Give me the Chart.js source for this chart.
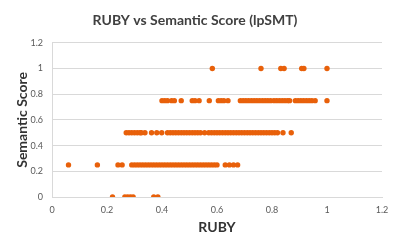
<!DOCTYPE html>
<html>
<head>
<meta charset="utf-8">
<script src="https://cdn.jsdelivr.net/npm/chart.js@4.4.0/dist/chart.umd.min.js"></script>
<style>
  body { margin: 0; background: #fff; }
</style>
</head>
<body>
<canvas id="rubyChart" width="400" height="240"></canvas>
<script>
var semanticLevels = [0, 0.25, 0.5, 0.75, 1];
var rubyAt0 = [0.22, 0.265, 0.275, 0.285, 0.295, 0.37, 0.385];
var rubyAt025 = [0.06, 0.165, 0.24, 0.255, 0.29, 0.30, 0.31, 0.32, 0.33, 0.34, 0.35, 0.36,
  0.37, 0.38, 0.39, 0.40, 0.41, 0.42, 0.43, 0.44, 0.45, 0.46, 0.47, 0.48, 0.49, 0.50,
  0.51, 0.52, 0.53, 0.54, 0.55, 0.56, 0.57, 0.58, 0.59, 0.60, 0.63, 0.645, 0.66, 0.675];
var rubyAt05 = [0.27, 0.28, 0.29, 0.30, 0.31, 0.32, 0.325, 0.338, 0.362, 0.381, 0.399,
  0.42, 0.43, 0.44, 0.45, 0.46, 0.47, 0.48, 0.49, 0.50, 0.51, 0.52, 0.53, 0.54, 0.555,
  0.57, 0.58, 0.59, 0.60, 0.61, 0.62, 0.63, 0.64, 0.65, 0.66, 0.67, 0.68, 0.69, 0.70,
  0.71, 0.72, 0.73, 0.74, 0.75, 0.76, 0.77, 0.78, 0.79, 0.80, 0.81, 0.82, 0.84, 0.87];
var rubyAt075 = [0.40, 0.41, 0.42, 0.435, 0.445, 0.47, 0.51, 0.52, 0.535, 0.572,
  0.605, 0.615, 0.625, 0.64, 0.685, 0.695, 0.705, 0.715, 0.725, 0.735, 0.745, 0.755,
  0.765, 0.775, 0.785, 0.795, 0.807, 0.817, 0.827, 0.837, 0.847, 0.857, 0.864,
  0.885, 0.895, 0.905, 0.915, 0.925, 0.935, 0.945, 0.957, 1.0];
var rubyAt1 = [0.583, 0.76, 0.832, 0.844, 0.908, 0.916, 1.0];
var xTicks = [0, 0.2, 0.4, 0.6, 0.8, 1, 1.2];

var rubyRows = [rubyAt0, rubyAt025, rubyAt05, rubyAt075, rubyAt1];
var points = [];
rubyRows.forEach(function (row, i) {
  row.forEach(function (r) { points.push({ x: r, y: semanticLevels[i] }); });
});

var orange = '#E8600A';
var lightGrey = '#D9D9D9';

// 0.2 -> "0.2", 1.0 -> "1", like the reference
function tickText(v) {
  return String(Math.round(v * 10) / 10);
}

var ctx = document.getElementById('rubyChart').getContext('2d');
var chart = new Chart(ctx, {
  type: 'scatter',
  data: {
    datasets: [{
      label: 'lpSMT',
      data: points,
      backgroundColor: orange,
      borderColor: orange,
      borderWidth: 0,
      pointRadius: 2.7,
      pointHoverRadius: 2.7
    }]
  },
  options: {
    responsive: false,
    animation: false,
    devicePixelRatio: 1,
    layout: { padding: { left: 8, right: 18, top: 0, bottom: 0 } },
    plugins: {
      legend: { display: false },
      tooltip: { enabled: false },
      title: {
        display: true,
        text: 'RUBY vs Semantic Score (lpSMT)',
        color: '#404040',
        font: { family: 'Lato', size: 14, weight: 'bold' },
        padding: { top: 12, bottom: 14 }
      }
    },
    scales: {
      x: {
        type: 'linear',
        min: 0,
        max: 1.2,
        afterBuildTicks: function (scale) {
          scale.ticks = xTicks.map(function (v) { return { value: v }; });
        },
        afterFit: function (scale) { scale.height = 43; },
        ticks: {
          color: '#595959',
          font: { family: 'Lato', size: 9 },
          padding: 8,
          callback: function (v) { return tickText(v); }
        },
        grid: { display: false, drawTicks: false },
        border: { display: true, color: lightGrey },
        title: {
          display: true,
          text: 'RUBY',
          color: '#333333',
          font: { family: 'Lato', size: 14, weight: 'bold' },
          padding: { top: 0, bottom: 4 }
        }
      },
      y: {
        min: 0,
        max: 1.2,
        afterFit: function (scale) { scale.width = 44; },
        ticks: {
          stepSize: 0.2,
          color: '#595959',
          font: { family: 'Lato', size: 9 },
          padding: 9,
          callback: function (v) { return tickText(v); }
        },
        grid: { color: lightGrey, drawTicks: false },
        border: { display: true, color: lightGrey },
        title: {
          display: true,
          text: 'Semantic Score',
          color: '#333333',
          font: { family: 'Lato', size: 14, weight: 'bold' },
          padding: { top: 6, bottom: 0 }
        }
      }
    }
  }
});
</script>
</body>
</html>
